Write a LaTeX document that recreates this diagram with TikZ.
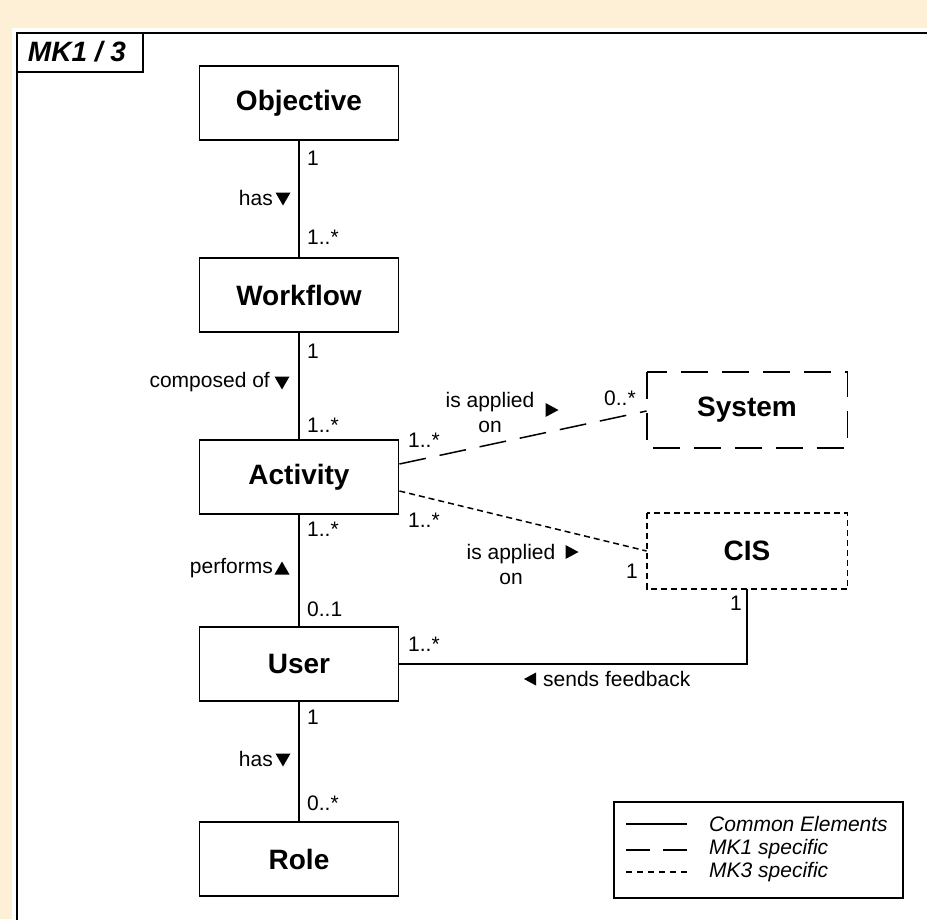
\documentclass[tikz,border=0pt]{standalone}
\usepackage{fontspec}
\setmainfont{Liberation Sans}
\definecolor{bgbeige}{RGB}{254,240,214}
\tikzset{
  umlbox/.style={draw, line width=1.8pt, minimum width=199pt, minimum height=74pt, inner sep=0pt, font=\fontsize{28}{30}\selectfont\bfseries, fill=white},
  lbl/.style={inner sep=0pt, font=\fontsize{21}{25}\selectfont},
  legtxt/.style={inner sep=0pt, anchor=west, font=\fontsize{21}{25}\selectfont\itshape},
  conn/.style={line width=1.5pt},
  longdash/.style={dash pattern=on 27pt off 14pt},
  shortdash/.style={dash pattern=on 6pt off 4pt},
  downtri/.pic={\fill (-7.5,-6.5) -- (7.5,-6.5) -- (0,6.5) -- cycle;},
  uptri/.pic={\fill (-7.5,6.5) -- (7.5,6.5) -- (0,-6.5) -- cycle;},
  righttri/.pic={\fill (-6.5,-7) -- (-6.5,7) -- (6.5,0) -- cycle;},
  lefttri/.pic={\fill (6,-6.5) -- (6,6.5) -- (-6,0) -- cycle;}
}
\begin{document}
\begin{tikzpicture}[x=1pt,y=-1pt]
\useasboundingbox (0,0) rectangle (927,919);
\fill[bgbeige] (0,0) rectangle (927,919);
\fill[white] (12,28) rectangle (935,925);
\draw[line width=2.7pt] (935,33) -- (17,33) -- (17,925);
\draw[line width=2.4pt] (17,33) rectangle (143,72);
\node[inner sep=0pt, font=\fontsize{28}{30}\selectfont\bfseries\itshape] (tab) at (77,52) {MK1 / 3};

% classes
\node[umlbox] (obj) at (299,103) {Objective};
\node[umlbox] (wf) at (299,295) {Workflow};
\node[umlbox] (act) at (299,477) {Activity};
\node[umlbox] (user) at (299,664) {User};
\node[umlbox] (role) at (299,859) {Role};
\node[umlbox, draw=none] (sys) at (747,410) {System};
\node[umlbox, draw=none] (cis) at (747,551) {CIS};
\draw[line width=1.8pt, longdash] (sys.north west) rectangle (sys.south east);
\draw[line width=1.8pt, shortdash] (cis.north west) rectangle (cis.south east);

% connectors
\draw[conn] (obj) -- (wf);
\draw[conn] (wf) -- (act);
\draw[conn] (act) -- (user);
\draw[conn] (user) -- (role);
\draw[conn, longdash] ([yshift=13pt]act.east) -- ([yshift=-1pt]sys.west);
\draw[conn, shortdash] ([yshift=-14pt]act.east) -- (cis.west);
\draw[conn] (user.east) -| (cis.south);

% labels objective-workflow
\node[lbl, anchor=west] (m1) at (307,158) {1};
\node[lbl, anchor=east] (r1) at (273,198) {has};
\pic at (283,199) {downtri};
\node[lbl, anchor=west] (m2) at (307,237) {1..*};
% workflow-activity
\node[lbl, anchor=west] (m3) at (307,351) {1};
\node[lbl, anchor=east] (r2) at (270,382) {composed of};
\pic at (282,383) {downtri};
\node[lbl, anchor=west] (m4) at (307,425) {1..*};
% activity-user
\node[lbl, anchor=west] (m5) at (307,529) {1..*};
\node[lbl, anchor=east] (r3) at (273,568) {performs};
\pic at (282,568) {uptri};
\node[lbl, anchor=west] (m6) at (307,609) {0..1};
% user-role
\node[lbl, anchor=west] (m7) at (307,717) {1};
\node[lbl, anchor=east] (r4) at (273,759) {has};
\pic at (283,760) {downtri};
\node[lbl, anchor=west] (m8) at (307,803) {0..*};
% activity-system
\node[lbl, anchor=west] (m9) at (408,440) {1..*};
\node[lbl, align=center] (r5) at (490,412) {is applied\\on};
\pic at (552,410) {righttri};
\node[lbl, anchor=west] (m10) at (604,398) {0..*};
% activity-cis
\node[lbl, anchor=west] (m11) at (408,520) {1..*};
\node[lbl, align=center] (r6) at (511,564) {is applied\\on};
\pic at (572,552) {righttri};
\node[lbl, anchor=west] (m12) at (626,571) {1};
% user-cis
\node[lbl, anchor=west] (m13) at (408,644) {1..*};
\pic at (530,679) {lefttri};
\node[lbl, anchor=west] (r7) at (543,679) {sends feedback};
\node[lbl, anchor=west] (m14) at (730,603) {1};

% legend
\draw[line width=1.5pt] (614,802) rectangle (903,898);
\coordinate (la1) at (626,824); \coordinate (lb1) at (687,824);
\coordinate (la2) at (626,850); \coordinate (lb2) at (687,850);
\coordinate (la3) at (626,872); \coordinate (lb3) at (687,872);
\draw[conn] (la1) -- (lb1);
\draw[conn, dash pattern=on 24pt off 13pt] (la2) -- (lb2);
\draw[conn, dash pattern=on 6pt off 5pt] (la3) -- (lb3);
\node[legtxt] (lt1) at (709,824) {Common Elements};
\node[legtxt] (lt2) at (709,849) {MK1 specific};
\node[legtxt] (lt3) at (709,872) {MK3 specific};
\end{tikzpicture}
\end{document}
